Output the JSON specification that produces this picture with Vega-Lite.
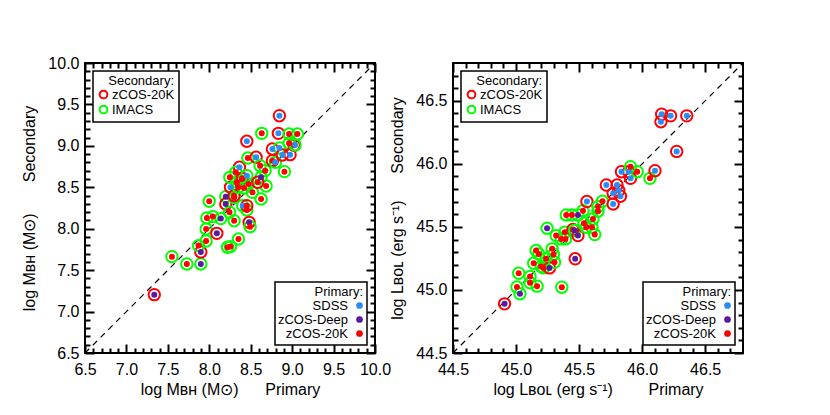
{
  "$schema": "https://vega.github.io/schema/vega-lite/v6.json",
  "padding": {"left": 20, "top": 54, "right": 0, "bottom": 0},
  "background": "white",
  "datasets": {
    "diagM": [{"x": 6.5, "y": 6.5}, {"x": 10.0, "y": 10.0}],
    "diagL": [{"x": 44.5, "y": 44.5}, {"x": 46.8, "y": 46.8}],
    "mbh": [
      {"x": 7.336, "y": 7.204, "secondary": "zCOS-20K", "primary": "zCOS-Deep"},
      {"x": 7.549, "y": 7.663, "secondary": "IMACS", "primary": "zCOS-20K"},
      {"x": 7.729, "y": 7.575, "secondary": "IMACS", "primary": "zCOS-20K"},
      {"x": 7.898, "y": 7.575, "secondary": "IMACS", "primary": "zCOS-Deep"},
      {"x": 7.898, "y": 7.719, "secondary": "zCOS-20K", "primary": "zCOS-Deep"},
      {"x": 7.870, "y": 7.796, "secondary": "IMACS", "primary": "zCOS-20K"},
      {"x": 7.962, "y": 7.852, "secondary": "IMACS", "primary": "zCOS-20K"},
      {"x": 7.962, "y": 7.997, "secondary": "IMACS", "primary": "zCOS-20K"},
      {"x": 7.999, "y": 8.331, "secondary": "IMACS", "primary": "zCOS-20K"},
      {"x": 7.971, "y": 8.130, "secondary": "IMACS", "primary": "zCOS-20K"},
      {"x": 8.043, "y": 8.146, "secondary": "IMACS", "primary": "zCOS-20K"},
      {"x": 8.091, "y": 7.944, "secondary": "zCOS-20K", "primary": "zCOS-Deep"},
      {"x": 8.139, "y": 8.122, "secondary": "IMACS", "primary": "zCOS-Deep"},
      {"x": 8.199, "y": 8.387, "secondary": "IMACS", "primary": "zCOS-Deep"},
      {"x": 8.199, "y": 8.298, "secondary": "zCOS-20K", "primary": "zCOS-Deep"},
      {"x": 8.244, "y": 8.198, "secondary": "IMACS", "primary": "zCOS-20K"},
      {"x": 8.300, "y": 8.097, "secondary": "IMACS", "primary": "zCOS-20K"},
      {"x": 8.220, "y": 7.776, "secondary": "IMACS", "primary": "zCOS-20K"},
      {"x": 8.256, "y": 7.784, "secondary": "IMACS", "primary": "zCOS-20K"},
      {"x": 8.352, "y": 7.876, "secondary": "IMACS", "primary": "zCOS-20K"},
      {"x": 8.256, "y": 8.500, "secondary": "zCOS-20K", "primary": "SDSS"},
      {"x": 8.248, "y": 8.620, "secondary": "IMACS", "primary": "zCOS-20K"},
      {"x": 8.300, "y": 8.379, "secondary": "IMACS", "primary": "zCOS-20K"},
      {"x": 8.300, "y": 8.399, "secondary": "zCOS-20K", "primary": "zCOS-20K"},
      {"x": 8.364, "y": 8.741, "secondary": "zCOS-20K", "primary": "SDSS"},
      {"x": 8.320, "y": 8.681, "secondary": "IMACS", "primary": "zCOS-20K"},
      {"x": 8.352, "y": 8.500, "secondary": "IMACS", "primary": "zCOS-20K"},
      {"x": 8.332, "y": 8.560, "secondary": "IMACS", "primary": "zCOS-20K"},
      {"x": 8.392, "y": 8.600, "secondary": "IMACS", "primary": "zCOS-20K"},
      {"x": 8.400, "y": 8.608, "secondary": "zCOS-20K", "primary": "zCOS-20K"},
      {"x": 8.404, "y": 8.278, "secondary": "IMACS", "primary": "SDSS"},
      {"x": 8.453, "y": 8.226, "secondary": "IMACS", "primary": "zCOS-20K"},
      {"x": 8.453, "y": 8.278, "secondary": "zCOS-20K", "primary": "zCOS-20K"},
      {"x": 8.481, "y": 8.077, "secondary": "zCOS-20K", "primary": "zCOS-Deep"},
      {"x": 8.493, "y": 8.025, "secondary": "IMACS", "primary": "zCOS-20K"},
      {"x": 8.453, "y": 9.055, "secondary": "zCOS-20K", "primary": "SDSS"},
      {"x": 8.465, "y": 8.854, "secondary": "IMACS", "primary": "zCOS-20K"},
      {"x": 8.453, "y": 8.640, "secondary": "IMACS", "primary": "SDSS"},
      {"x": 8.473, "y": 8.540, "secondary": "IMACS", "primary": "zCOS-20K"},
      {"x": 8.420, "y": 8.492, "secondary": "IMACS", "primary": "zCOS-20K"},
      {"x": 8.521, "y": 8.439, "secondary": "IMACS", "primary": "zCOS-20K"},
      {"x": 8.565, "y": 8.862, "secondary": "zCOS-20K", "primary": "SDSS"},
      {"x": 8.613, "y": 8.761, "secondary": "IMACS", "primary": "zCOS-20K"},
      {"x": 8.633, "y": 9.151, "secondary": "IMACS", "primary": "zCOS-20K"},
      {"x": 8.625, "y": 8.620, "secondary": "IMACS", "primary": "zCOS-Deep"},
      {"x": 8.625, "y": 8.359, "secondary": "IMACS", "primary": "zCOS-20K"},
      {"x": 8.674, "y": 8.701, "secondary": "IMACS", "primary": "zCOS-20K"},
      {"x": 8.686, "y": 8.516, "secondary": "IMACS", "primary": "zCOS-20K"},
      {"x": 8.585, "y": 8.560, "secondary": "zCOS-20K", "primary": "zCOS-20K"},
      {"x": 8.762, "y": 8.962, "secondary": "zCOS-20K", "primary": "SDSS"},
      {"x": 8.762, "y": 8.821, "secondary": "zCOS-20K", "primary": "zCOS-20K"},
      {"x": 8.798, "y": 8.801, "secondary": "IMACS", "primary": "SDSS"},
      {"x": 8.846, "y": 9.364, "secondary": "zCOS-20K", "primary": "SDSS"},
      {"x": 8.834, "y": 9.151, "secondary": "zCOS-20K", "primary": "SDSS"},
      {"x": 8.846, "y": 8.974, "secondary": "IMACS", "primary": "SDSS"},
      {"x": 8.882, "y": 8.890, "secondary": "zCOS-20K", "primary": "SDSS"},
      {"x": 8.907, "y": 8.689, "secondary": "IMACS", "primary": "zCOS-20K"},
      {"x": 8.963, "y": 9.143, "secondary": "IMACS", "primary": "zCOS-20K"},
      {"x": 8.963, "y": 9.031, "secondary": "IMACS", "primary": "zCOS-20K"},
      {"x": 8.975, "y": 8.894, "secondary": "zCOS-20K", "primary": "SDSS"},
      {"x": 9.023, "y": 9.006, "secondary": "zCOS-20K", "primary": "zCOS-20K"},
      {"x": 9.035, "y": 9.010, "secondary": "IMACS", "primary": "SDSS"},
      {"x": 9.063, "y": 9.143, "secondary": "IMACS", "primary": "zCOS-20K"}
    ],
    "lbol": [
      {"x": 44.909, "y": 44.890, "secondary": "zCOS-20K", "primary": "zCOS-Deep"},
      {"x": 45.007, "y": 45.023, "secondary": "IMACS", "primary": "zCOS-20K"},
      {"x": 45.031, "y": 44.970, "secondary": "IMACS", "primary": "zCOS-Deep"},
      {"x": 45.021, "y": 45.133, "secondary": "IMACS", "primary": "zCOS-20K"},
      {"x": 45.111, "y": 45.107, "secondary": "IMACS", "primary": "zCOS-20K"},
      {"x": 45.111, "y": 45.057, "secondary": "IMACS", "primary": "zCOS-20K"},
      {"x": 45.167, "y": 45.030, "secondary": "IMACS", "primary": "zCOS-20K"},
      {"x": 45.363, "y": 45.022, "secondary": "IMACS", "primary": "zCOS-20K"},
      {"x": 45.140, "y": 45.212, "secondary": "IMACS", "primary": "zCOS-20K"},
      {"x": 45.159, "y": 45.313, "secondary": "IMACS", "primary": "zCOS-20K"},
      {"x": 45.180, "y": 45.286, "secondary": "IMACS", "primary": "zCOS-20K"},
      {"x": 45.199, "y": 45.186, "secondary": "IMACS", "primary": "zCOS-20K"},
      {"x": 45.217, "y": 45.175, "secondary": "IMACS", "primary": "zCOS-20K"},
      {"x": 45.246, "y": 45.489, "secondary": "IMACS", "primary": "zCOS-Deep"},
      {"x": 45.238, "y": 45.247, "secondary": "IMACS", "primary": "zCOS-20K"},
      {"x": 45.265, "y": 45.175, "secondary": "zCOS-20K", "primary": "zCOS-Deep"},
      {"x": 45.286, "y": 45.326, "secondary": "IMACS", "primary": "zCOS-20K"},
      {"x": 45.297, "y": 45.281, "secondary": "IMACS", "primary": "zCOS-20K"},
      {"x": 45.305, "y": 45.220, "secondary": "IMACS", "primary": "zCOS-20K"},
      {"x": 45.318, "y": 45.431, "secondary": "IMACS", "primary": "zCOS-20K"},
      {"x": 45.358, "y": 45.405, "secondary": "IMACS", "primary": "zCOS-20K"},
      {"x": 45.392, "y": 45.405, "secondary": "IMACS", "primary": "zCOS-20K"},
      {"x": 45.387, "y": 45.458, "secondary": "IMACS", "primary": "zCOS-20K"},
      {"x": 45.398, "y": 45.595, "secondary": "IMACS", "primary": "zCOS-20K"},
      {"x": 45.443, "y": 45.595, "secondary": "IMACS", "primary": "zCOS-20K"},
      {"x": 45.469, "y": 45.247, "secondary": "zCOS-20K", "primary": "zCOS-Deep"},
      {"x": 45.451, "y": 45.479, "secondary": "zCOS-20K", "primary": "zCOS-20K"},
      {"x": 45.464, "y": 45.471, "secondary": "IMACS", "primary": "zCOS-Deep"},
      {"x": 45.491, "y": 45.431, "secondary": "zCOS-20K", "primary": "zCOS-Deep"},
      {"x": 45.491, "y": 45.595, "secondary": "IMACS", "primary": "zCOS-Deep"},
      {"x": 45.531, "y": 45.629, "secondary": "IMACS", "primary": "zCOS-20K"},
      {"x": 45.539, "y": 45.529, "secondary": "IMACS", "primary": "zCOS-20K"},
      {"x": 45.557, "y": 45.497, "secondary": "IMACS", "primary": "zCOS-20K"},
      {"x": 45.562, "y": 45.701, "secondary": "zCOS-20K", "primary": "SDSS"},
      {"x": 45.602, "y": 45.497, "secondary": "IMACS", "primary": "zCOS-20K"},
      {"x": 45.610, "y": 45.563, "secondary": "IMACS", "primary": "zCOS-20K"},
      {"x": 45.624, "y": 45.439, "secondary": "IMACS", "primary": "zCOS-20K"},
      {"x": 45.650, "y": 45.661, "secondary": "IMACS", "primary": "zCOS-20K"},
      {"x": 45.650, "y": 45.624, "secondary": "IMACS", "primary": "zCOS-20K"},
      {"x": 45.685, "y": 45.703, "secondary": "IMACS", "primary": "zCOS-20K"},
      {"x": 45.716, "y": 45.832, "secondary": "zCOS-20K", "primary": "SDSS"},
      {"x": 45.770, "y": 45.766, "secondary": "zCOS-20K", "primary": "SDSS"},
      {"x": 45.770, "y": 45.682, "secondary": "zCOS-20K", "primary": "SDSS"},
      {"x": 45.801, "y": 45.832, "secondary": "zCOS-20K", "primary": "SDSS"},
      {"x": 45.815, "y": 45.788, "secondary": "zCOS-20K", "primary": "SDSS"},
      {"x": 45.828, "y": 45.743, "secondary": "zCOS-20K", "primary": "SDSS"},
      {"x": 45.836, "y": 45.938, "secondary": "zCOS-20K", "primary": "SDSS"},
      {"x": 45.894, "y": 45.938, "secondary": "zCOS-20K", "primary": "SDSS"},
      {"x": 45.908, "y": 45.978, "secondary": "IMACS", "primary": "zCOS-20K"},
      {"x": 45.908, "y": 45.885, "secondary": "zCOS-20K", "primary": "SDSS"},
      {"x": 45.961, "y": 45.938, "secondary": "IMACS", "primary": "zCOS-20K"},
      {"x": 46.062, "y": 45.885, "secondary": "IMACS", "primary": "zCOS-20K"},
      {"x": 46.102, "y": 45.946, "secondary": "zCOS-20K", "primary": "SDSS"},
      {"x": 46.149, "y": 46.334, "secondary": "zCOS-20K", "primary": "SDSS"},
      {"x": 46.155, "y": 46.394, "secondary": "zCOS-20K", "primary": "SDSS"},
      {"x": 46.226, "y": 46.381, "secondary": "zCOS-20K", "primary": "SDSS"},
      {"x": 46.354, "y": 46.381, "secondary": "zCOS-20K", "primary": "SDSS"},
      {"x": 46.274, "y": 46.099, "secondary": "zCOS-20K", "primary": "SDSS"}
    ]
  },
  "config": {
    "font": "Liberation Sans",
    "view": {"stroke": "black", "strokeWidth": 2},
    "axis": {
      "grid": false,
      "labelOverlap": false, "labelFlush": false,
      "labelColor": "black", "labelFontSize": 16, "labelFont": "Liberation Sans",
      "titleColor": "black", "titleFontSize": 16, "titleFontWeight": "normal", "titleFont": "Liberation Sans"
    },
    "legend": {
      "strokeColor": "black", "strokeWidth": 1.5, "fillColor": "white",
      "padding": 4, "offset": 8,
      "titleFontSize": 13, "titleFontWeight": "normal", "titleColor": "black", "titleAnchor": "end",
      "titlePadding": 0, "labelFontSize": 13, "labelColor": "black", "rowPadding": -3,
      "symbolType": "circle", "labelExpr": "replace(datum.label, '-', '\u2212')"
    }
  },
  "resolve": {"scale": {"stroke": "independent", "fill": "independent"}},
  "spacing": -4,
  "hconcat": [
    {
      "width": 290, "height": 290,
      "resolve": {"axis": {"x": "independent", "y": "independent"}},
      "layer": [
        {
          "data": {"name": "diagM"},
          "mark": {"type": "line", "color": "black", "strokeDash": [6, 5], "strokeWidth": 1.2},
          "encoding": {
            "x": {"field": "x", "type": "quantitative", "scale": {"domain": [6.5, 10], "nice": false, "zero": false},
              "axis": {"orient": "bottom", "values": [6.5, 7, 7.5, 8, 8.5, 9, 9.5, 10], "format": ".1f", "offset": -9, "domain": false, "ticks": true, "tickColor": "black", "tickWidth": 2, "tickSize": 9, "labelPadding": 8, "title": "log M\u0299\u029c (M\u2299)\u00a0\u00a0\u00a0\u00a0\u00a0\u00a0Primary", "titlePadding": 4}},
            "y": {"field": "y", "type": "quantitative", "scale": {"domain": [6.5, 10], "nice": false, "zero": false},
              "axis": {"orient": "left", "values": [6.5, 7, 7.5, 8, 8.5, 9, 9.5, 10], "format": ".1f", "offset": -9, "domain": false, "ticks": true, "tickColor": "black", "tickWidth": 2, "tickSize": 9, "labelPadding": 6, "title": "log M\u0299\u029c (M\u2299)\u00a0\u00a0\u00a0\u00a0\u00a0\u00a0\u00a0Secondary", "titlePadding": 10}}
          }
        },
        {
          "data": {"name": "mbh"},
          "mark": {"type": "point", "shape": "circle", "filled": false, "size": 130, "strokeWidth": 2, "opacity": 1},
          "encoding": {
            "x": {"field": "x", "type": "quantitative", "scale": {"domain": [6.5, 10], "nice": false, "zero": false},
              "axis": {"orient": "bottom", "values": [6.6, 6.7, 6.8, 6.9, 7.1, 7.2, 7.3, 7.4, 7.6, 7.7, 7.8, 7.9, 8.1, 8.2, 8.3, 8.4, 8.6, 8.7, 8.8, 8.9, 9.1, 9.2, 9.3, 9.4, 9.6, 9.7, 9.8, 9.9], "offset": -5, "domain": false, "ticks": true, "tickColor": "black", "tickWidth": 2, "tickSize": 5, "labels": false, "title": null}},
            "y": {"field": "y", "type": "quantitative", "scale": {"domain": [6.5, 10], "nice": false, "zero": false},
              "axis": {"orient": "left", "values": [6.6, 6.7, 6.8, 6.9, 7.1, 7.2, 7.3, 7.4, 7.6, 7.7, 7.8, 7.9, 8.1, 8.2, 8.3, 8.4, 8.6, 8.7, 8.8, 8.9, 9.1, 9.2, 9.3, 9.4, 9.6, 9.7, 9.8, 9.9], "offset": -5, "domain": false, "ticks": true, "tickColor": "black", "tickWidth": 2, "tickSize": 5, "labels": false, "title": null}},
            "stroke": {"field": "secondary", "type": "nominal",
              "scale": {"domain": ["zCOS-20K", "IMACS"], "range": ["#ff0000", "#00ff00"]},
              "legend": {"title": "Secondary:", "orient": "top-left", "symbolSize": 60, "symbolStrokeWidth": 2, "labelOffset": 2}}
          }
        },
        {
          "data": {"name": "mbh"},
          "mark": {"type": "circle", "size": 36, "opacity": 1},
          "encoding": {
            "x": {"field": "x", "type": "quantitative", "scale": {"domain": [6.5, 10], "nice": false, "zero": false},
              "axis": {"orient": "top", "values": [6.5, 7, 7.5, 8, 8.5, 9, 9.5, 10], "offset": -9, "domain": false, "ticks": true, "tickColor": "black", "tickWidth": 2, "tickSize": 9, "labels": false, "title": null}},
            "y": {"field": "y", "type": "quantitative", "scale": {"domain": [6.5, 10], "nice": false, "zero": false},
              "axis": {"orient": "right", "values": [6.5, 7, 7.5, 8, 8.5, 9, 9.5, 10], "offset": -9, "domain": false, "ticks": true, "tickColor": "black", "tickWidth": 2, "tickSize": 9, "labels": false, "title": null}},
            "fill": {"field": "primary", "type": "nominal",
              "scale": {"domain": ["SDSS", "zCOS-Deep", "zCOS-20K"], "range": ["#2a8cf5", "#5a1a9e", "#ff0000"]},
              "legend": {"title": "Primary:", "orient": "bottom-right", "symbolSize": 45, "symbolOffset": 74, "labelAlign": "right", "labelOffset": -18}}
          }
        },
        {
          "data": {"name": "diagM"},
          "mark": {"type": "line", "opacity": 0},
          "encoding": {
            "x": {"field": "x", "type": "quantitative", "scale": {"domain": [6.5, 10], "nice": false, "zero": false},
              "axis": {"orient": "top", "values": [6.6, 6.7, 6.8, 6.9, 7.1, 7.2, 7.3, 7.4, 7.6, 7.7, 7.8, 7.9, 8.1, 8.2, 8.3, 8.4, 8.6, 8.7, 8.8, 8.9, 9.1, 9.2, 9.3, 9.4, 9.6, 9.7, 9.8, 9.9], "offset": -5, "domain": false, "ticks": true, "tickColor": "black", "tickWidth": 2, "tickSize": 5, "labels": false, "title": null}},
            "y": {"field": "y", "type": "quantitative", "scale": {"domain": [6.5, 10], "nice": false, "zero": false},
              "axis": {"orient": "right", "values": [6.6, 6.7, 6.8, 6.9, 7.1, 7.2, 7.3, 7.4, 7.6, 7.7, 7.8, 7.9, 8.1, 8.2, 8.3, 8.4, 8.6, 8.7, 8.8, 8.9, 9.1, 9.2, 9.3, 9.4, 9.6, 9.7, 9.8, 9.9], "offset": -5, "domain": false, "ticks": true, "tickColor": "black", "tickWidth": 2, "tickSize": 5, "labels": false, "title": null}}
          }
        }
      ]
    },
    {
      "width": 290, "height": 290,
      "resolve": {"axis": {"x": "independent", "y": "independent"}},
      "layer": [
        {
          "data": {"name": "diagL"},
          "mark": {"type": "line", "color": "black", "strokeDash": [6, 5], "strokeWidth": 1.2},
          "encoding": {
            "x": {"field": "x", "type": "quantitative", "scale": {"domain": [44.5, 46.8], "nice": false, "zero": false},
              "axis": {"orient": "bottom", "values": [44.5, 45, 45.5, 46, 46.5], "format": ".1f", "offset": -9, "domain": false, "ticks": true, "tickColor": "black", "tickWidth": 2, "tickSize": 9, "labelPadding": 8, "title": "log L\u0299\u1d0f\u029f (erg s\u207b\u00b9)\u00a0\u00a0\u00a0\u00a0\u00a0\u00a0\u00a0\u00a0Primary", "titlePadding": 4}},
            "y": {"field": "y", "type": "quantitative", "scale": {"domain": [44.5, 46.8], "nice": false, "zero": false},
              "axis": {"orient": "left", "values": [44.5, 45, 45.5, 46, 46.5], "format": ".1f", "offset": -9, "domain": false, "ticks": true, "tickColor": "black", "tickWidth": 2, "tickSize": 9, "labelPadding": 6, "title": "log L\u0299\u1d0f\u029f (erg s\u207b\u00b9)\u00a0\u00a0\u00a0\u00a0\u00a0\u00a0Secondary", "titlePadding": 10}}
          }
        },
        {
          "data": {"name": "lbol"},
          "mark": {"type": "point", "shape": "circle", "filled": false, "size": 130, "strokeWidth": 2, "opacity": 1},
          "encoding": {
            "x": {"field": "x", "type": "quantitative", "scale": {"domain": [44.5, 46.8], "nice": false, "zero": false},
              "axis": {"orient": "bottom", "values": [44.6, 44.7, 44.8, 44.9, 45.1, 45.2, 45.3, 45.4, 45.6, 45.7, 45.8, 45.9, 46.1, 46.2, 46.3, 46.4, 46.6, 46.7], "offset": -5, "domain": false, "ticks": true, "tickColor": "black", "tickWidth": 2, "tickSize": 5, "labels": false, "title": null}},
            "y": {"field": "y", "type": "quantitative", "scale": {"domain": [44.5, 46.8], "nice": false, "zero": false},
              "axis": {"orient": "left", "values": [44.6, 44.7, 44.8, 44.9, 45.1, 45.2, 45.3, 45.4, 45.6, 45.7, 45.8, 45.9, 46.1, 46.2, 46.3, 46.4, 46.6, 46.7], "offset": -5, "domain": false, "ticks": true, "tickColor": "black", "tickWidth": 2, "tickSize": 5, "labels": false, "title": null}},
            "stroke": {"field": "secondary", "type": "nominal",
              "scale": {"domain": ["zCOS-20K", "IMACS"], "range": ["#ff0000", "#00ff00"]},
              "legend": {"title": "Secondary:", "orient": "top-left", "symbolSize": 60, "symbolStrokeWidth": 2, "labelOffset": 2}}
          }
        },
        {
          "data": {"name": "lbol"},
          "mark": {"type": "circle", "size": 36, "opacity": 1},
          "encoding": {
            "x": {"field": "x", "type": "quantitative", "scale": {"domain": [44.5, 46.8], "nice": false, "zero": false},
              "axis": {"orient": "top", "values": [44.5, 45, 45.5, 46, 46.5], "offset": -9, "domain": false, "ticks": true, "tickColor": "black", "tickWidth": 2, "tickSize": 9, "labels": false, "title": null}},
            "y": {"field": "y", "type": "quantitative", "scale": {"domain": [44.5, 46.8], "nice": false, "zero": false},
              "axis": {"orient": "right", "values": [44.5, 45, 45.5, 46, 46.5], "offset": -9, "domain": false, "ticks": true, "tickColor": "black", "tickWidth": 2, "tickSize": 9, "labels": false, "title": null}},
            "fill": {"field": "primary", "type": "nominal",
              "scale": {"domain": ["SDSS", "zCOS-Deep", "zCOS-20K"], "range": ["#2a8cf5", "#5a1a9e", "#ff0000"]},
              "legend": {"title": "Primary:", "orient": "bottom-right", "symbolSize": 45, "symbolOffset": 74, "labelAlign": "right", "labelOffset": -18}}
          }
        },
        {
          "data": {"name": "diagL"},
          "mark": {"type": "line", "opacity": 0},
          "encoding": {
            "x": {"field": "x", "type": "quantitative", "scale": {"domain": [44.5, 46.8], "nice": false, "zero": false},
              "axis": {"orient": "top", "values": [44.6, 44.7, 44.8, 44.9, 45.1, 45.2, 45.3, 45.4, 45.6, 45.7, 45.8, 45.9, 46.1, 46.2, 46.3, 46.4, 46.6, 46.7], "offset": -5, "domain": false, "ticks": true, "tickColor": "black", "tickWidth": 2, "tickSize": 5, "labels": false, "title": null}},
            "y": {"field": "y", "type": "quantitative", "scale": {"domain": [44.5, 46.8], "nice": false, "zero": false},
              "axis": {"orient": "right", "values": [44.6, 44.7, 44.8, 44.9, 45.1, 45.2, 45.3, 45.4, 45.6, 45.7, 45.8, 45.9, 46.1, 46.2, 46.3, 46.4, 46.6, 46.7], "offset": -5, "domain": false, "ticks": true, "tickColor": "black", "tickWidth": 2, "tickSize": 5, "labels": false, "title": null}}
          }
        }
      ]
    }
  ]
}
